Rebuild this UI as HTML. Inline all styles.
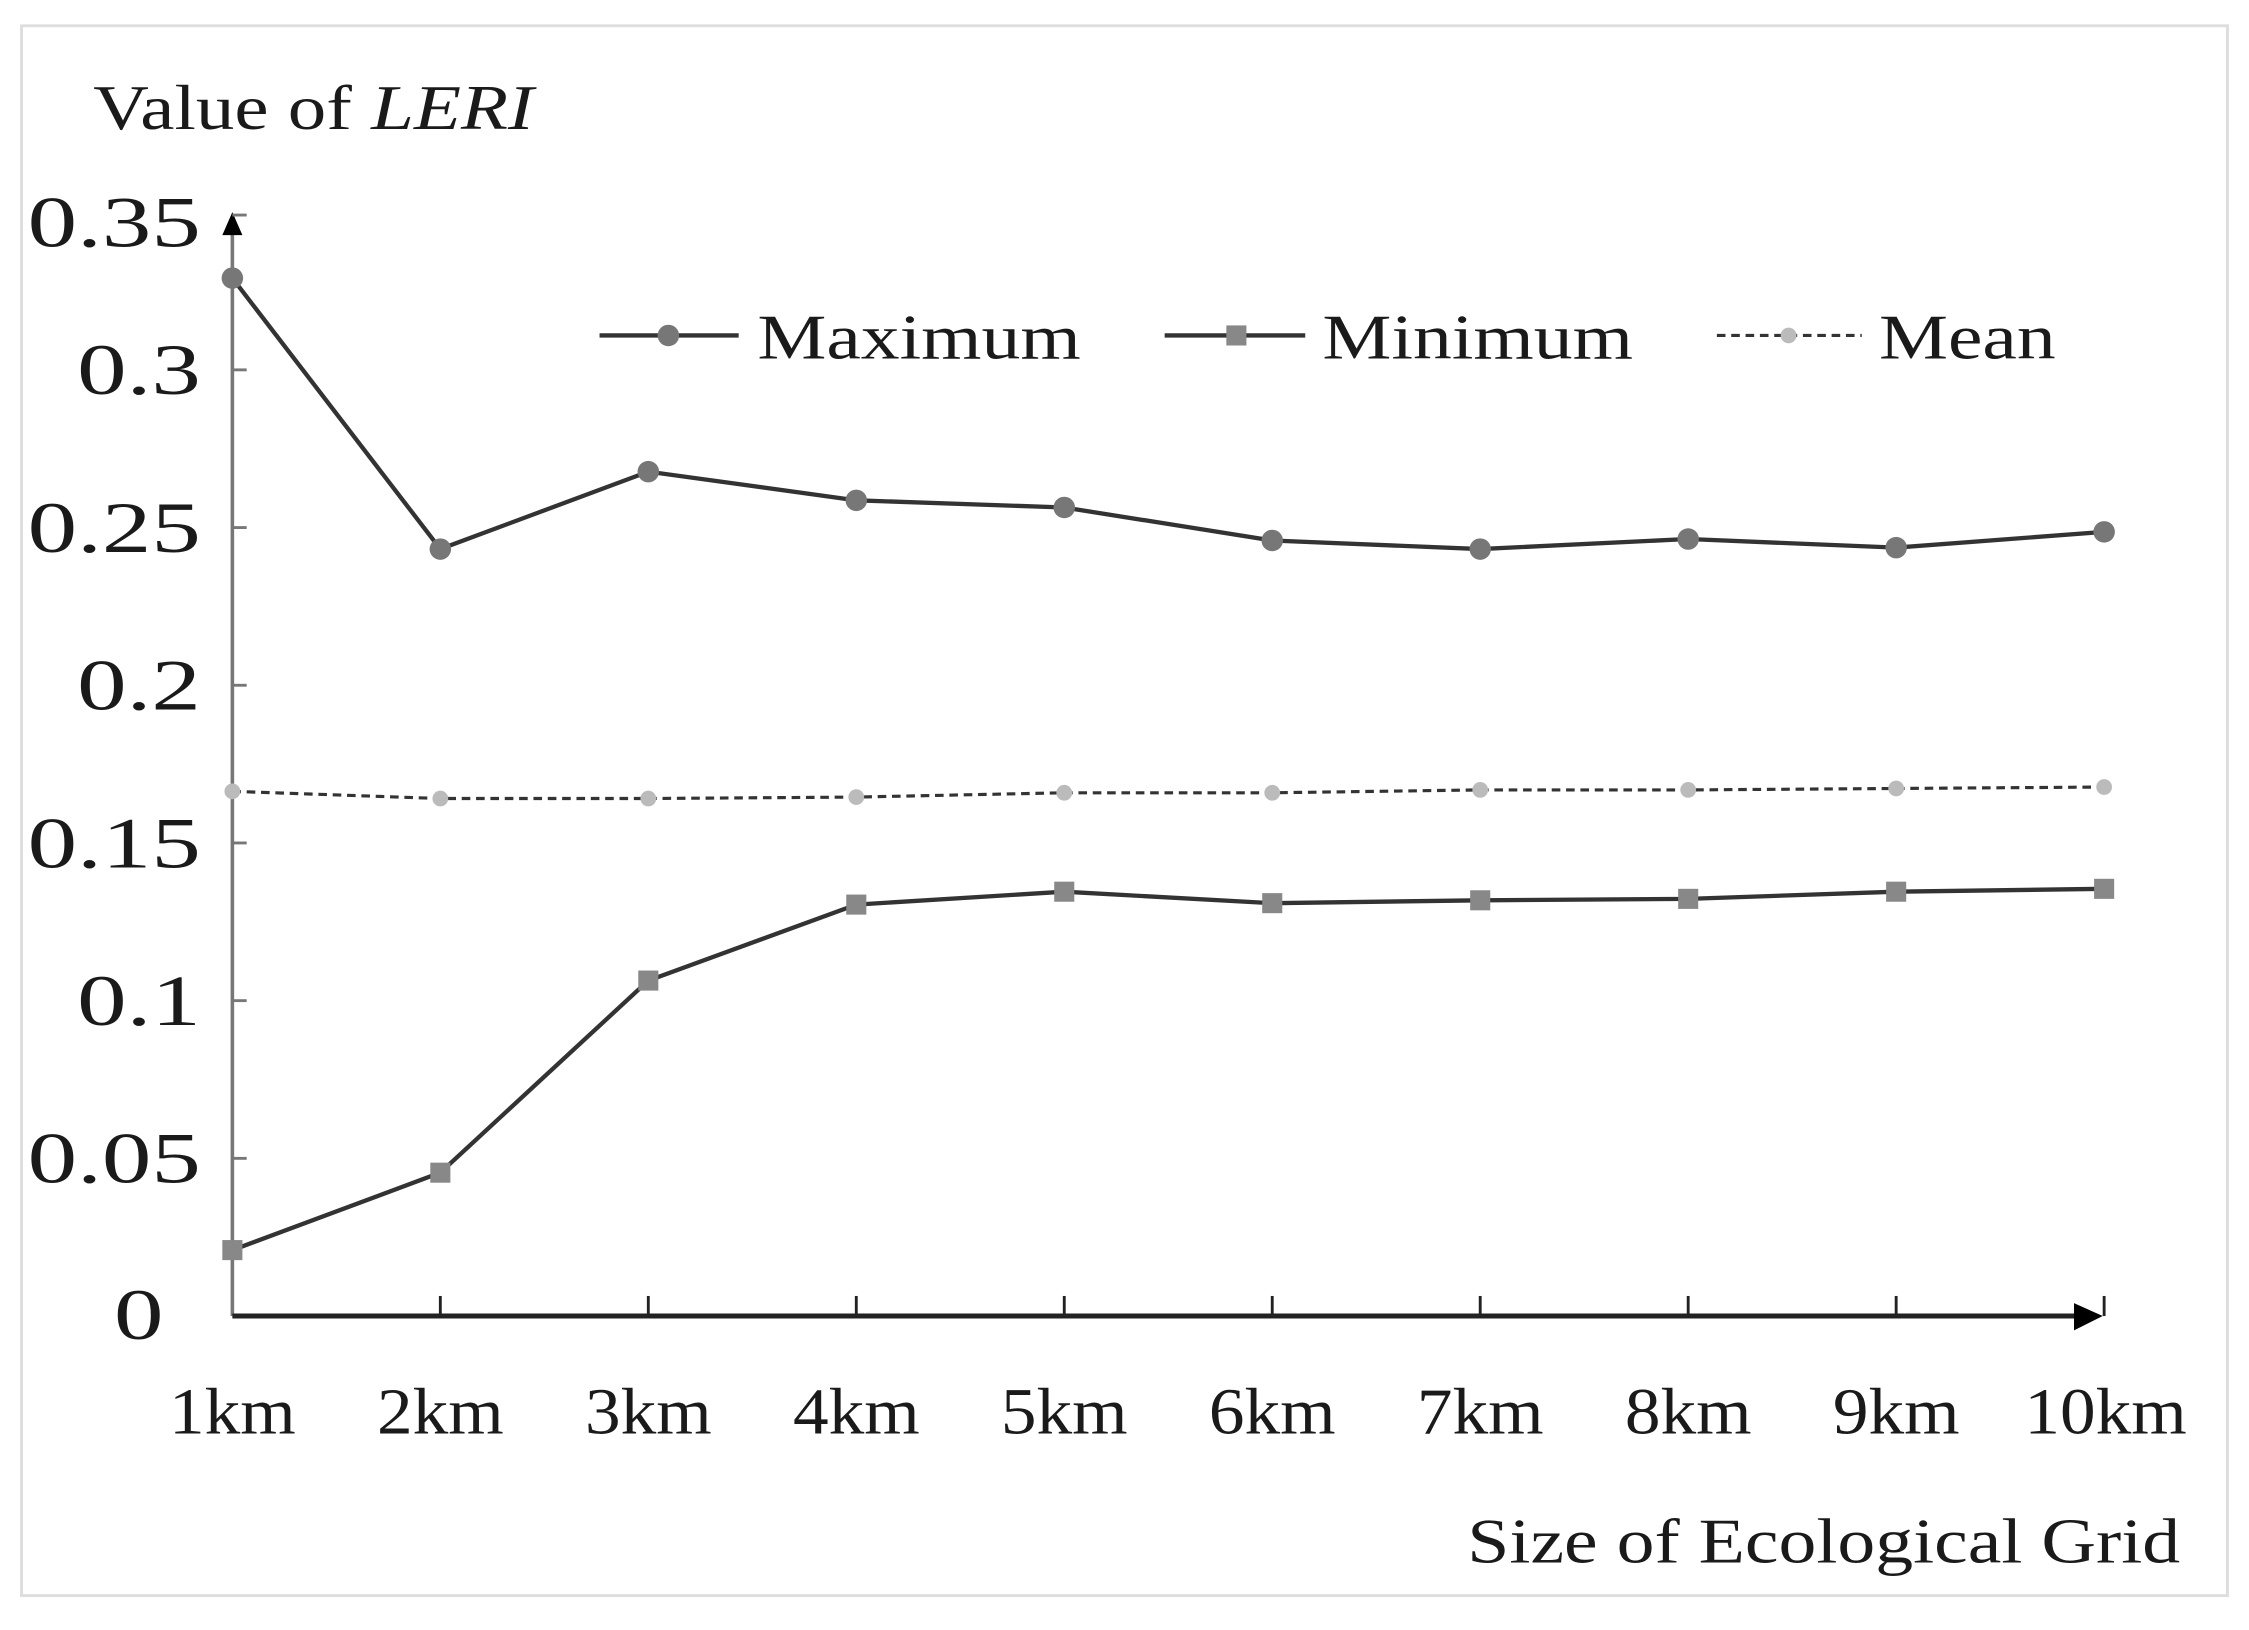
<!DOCTYPE html>
<html><head><meta charset="utf-8"><style>html,body{margin:0;padding:0;background:#fff}svg{display:block}</style></head>
<body>
<svg width="2249" height="1630" viewBox="0 0 1568 1137" preserveAspectRatio="none" xmlns="http://www.w3.org/2000/svg" font-family="Liberation Serif, serif" fill="#1a1a1a">
<rect x="15" y="18" width="1538" height="1095" fill="#fff" stroke="#ddd" stroke-width="2"/>
<text transform="translate(65,90) scale(1.22,1)" font-size="44">Value of <tspan font-style="italic">LERI</tspan></text>
<g font-size="50" text-anchor="end">
<text transform="translate(140,172) scale(1.38,1)">0.35</text>
<text transform="translate(140,275) scale(1.38,1)">0.3</text>
<text transform="translate(140,385) scale(1.38,1)">0.25</text>
<text transform="translate(140,495) scale(1.38,1)">0.2</text>
<text transform="translate(140,605) scale(1.38,1)">0.15</text>
<text transform="translate(140,715) scale(1.38,1)">0.1</text>
<text transform="translate(140,825) scale(1.38,1)">0.05</text>
<text transform="translate(114,934) scale(1.38,1)">0</text>
</g>
<line x1="162" y1="918" x2="162" y2="162" stroke="#777" stroke-width="2.5"/>
<polygon points="162,148 155,164 169,164" fill="#000"/>
<g stroke="#777" stroke-width="2">
<line x1="162" y1="258" x2="172" y2="258"/><line x1="162" y1="368" x2="172" y2="368"/>
<line x1="162" y1="478" x2="172" y2="478"/><line x1="162" y1="588" x2="172" y2="588"/>
<line x1="162" y1="698" x2="172" y2="698"/><line x1="162" y1="808" x2="172" y2="808"/>
<line x1="162" y1="150" x2="172" y2="150"/>
</g>
<line x1="162" y1="918" x2="1452" y2="918" stroke="#222" stroke-width="3.5"/>
<polygon points="1466,918 1446,909 1446,928" fill="#000"/>
<g stroke="#222" stroke-width="2">
<line x1="307" y1="918" x2="307" y2="904"/><line x1="452" y1="918" x2="452" y2="904"/>
<line x1="597" y1="918" x2="597" y2="904"/><line x1="742" y1="918" x2="742" y2="904"/>
<line x1="887" y1="918" x2="887" y2="904"/><line x1="1032" y1="918" x2="1032" y2="904"/>
<line x1="1177" y1="918" x2="1177" y2="904"/><line x1="1322" y1="918" x2="1322" y2="904"/>
<line x1="1467" y1="904" x2="1467" y2="918"/>
</g>
<g font-size="46" text-anchor="middle">
<text transform="translate(162,1000) scale(1.08,1)">1km</text>
<text transform="translate(307,1000) scale(1.08,1)">2km</text>
<text transform="translate(452,1000) scale(1.08,1)">3km</text>
<text transform="translate(597,1000) scale(1.08,1)">4km</text>
<text transform="translate(742,1000) scale(1.08,1)">5km</text>
<text transform="translate(887,1000) scale(1.08,1)">6km</text>
<text transform="translate(1032,1000) scale(1.08,1)">7km</text>
<text transform="translate(1177,1000) scale(1.08,1)">8km</text>
<text transform="translate(1322,1000) scale(1.08,1)">9km</text>
<text transform="translate(1468,1000) scale(1.08,1)">10km</text>
</g>
<text transform="translate(1520,1090) scale(1.2,1)" font-size="44" text-anchor="end">Size of Ecological  Grid</text>
<polyline fill="none" stroke="#333" stroke-width="3" points="162,194 307,383 452,329 597,349 742,354 887,377 1032,383 1177,376 1322,382 1467,371"/>
<g fill="#777"><circle cx="162" cy="194" r="7.5"/><circle cx="307" cy="383" r="7.5"/><circle cx="452" cy="329" r="7.5"/><circle cx="597" cy="349" r="7.5"/><circle cx="742" cy="354" r="7.5"/><circle cx="887" cy="377" r="7.5"/><circle cx="1032" cy="383" r="7.5"/><circle cx="1177" cy="376" r="7.5"/><circle cx="1322" cy="382" r="7.5"/><circle cx="1467" cy="371" r="7.5"/></g>
<polyline fill="none" stroke="#333" stroke-width="3" points="162,872 307,818 452,684 597,631 742,622 887,630 1032,628 1177,627 1322,622 1467,620"/>
<g fill="#888"><rect x="155" y="865" width="14" height="14"/><rect x="300" y="811" width="14" height="14"/><rect x="445" y="677" width="14" height="14"/><rect x="590" y="624" width="14" height="14"/><rect x="735" y="615" width="14" height="14"/><rect x="880" y="623" width="14" height="14"/><rect x="1025" y="621" width="14" height="14"/><rect x="1170" y="620" width="14" height="14"/><rect x="1315" y="615" width="14" height="14"/><rect x="1460" y="613" width="14" height="14"/></g>
<polyline fill="none" stroke="#333" stroke-width="2.2" stroke-dasharray="6,4" points="162,552 307,557 452,557 597,556 742,553 887,553 1032,551 1177,551 1322,550 1467,549"/>
<g fill="#bbb"><circle cx="162" cy="552" r="5.5"/><circle cx="307" cy="557" r="5.5"/><circle cx="452" cy="557" r="5.5"/><circle cx="597" cy="556" r="5.5"/><circle cx="742" cy="553" r="5.5"/><circle cx="887" cy="553" r="5.5"/><circle cx="1032" cy="551" r="5.5"/><circle cx="1177" cy="551" r="5.5"/><circle cx="1322" cy="550" r="5.5"/><circle cx="1467" cy="549" r="5.5"/></g>
<line x1="418" y1="234" x2="515" y2="234" stroke="#333" stroke-width="3"/><circle cx="466" cy="234" r="7.5" fill="#777"/>
<text transform="translate(528,250) scale(1.23,1)" font-size="44">Maximum</text>
<line x1="812" y1="234" x2="910" y2="234" stroke="#333" stroke-width="3"/><rect x="855" y="227" width="14" height="14" fill="#888"/>
<text transform="translate(922,250) scale(1.23,1)" font-size="44">Minimum</text>
<line x1="1197" y1="234" x2="1298" y2="234" stroke="#333" stroke-width="2.2" stroke-dasharray="6,4"/><circle cx="1247" cy="234" r="5.5" fill="#bbb"/>
<text transform="translate(1310,250) scale(1.23,1)" font-size="44">Mean</text>
</svg>
</body></html>
